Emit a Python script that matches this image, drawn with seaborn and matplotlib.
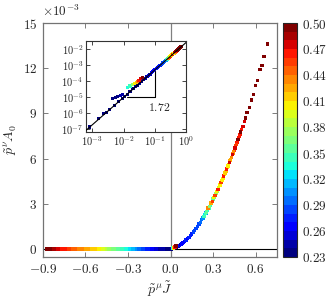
import numpy as np
import pandas as pd
import matplotlib
matplotlib.use('Agg')
import matplotlib.pyplot as plt
import seaborn as sns
from matplotlib.colors import ListedColormap, Normalize
from matplotlib.cm import ScalarMappable

# negative branch, lies on y = 0
x_neg = [-0.870, -0.855, -0.840, -0.825, -0.810, -0.795, -0.780, -0.765, -0.750, -0.735,
         -0.720, -0.705, -0.690, -0.675, -0.660, -0.645, -0.630, -0.615, -0.600, -0.585,
         -0.570, -0.555, -0.540, -0.525, -0.510, -0.495, -0.480, -0.465, -0.450, -0.435,
         -0.420, -0.405, -0.390, -0.375, -0.360, -0.345, -0.330, -0.315, -0.300, -0.285,
         -0.270, -0.255, -0.240, -0.225, -0.210, -0.195, -0.180, -0.165, -0.150, -0.135,
         -0.120, -0.105, -0.090, -0.075, -0.060, -0.045, -0.030, -0.015, 0.000]
c_neg = [0.500, 0.496, 0.491, 0.487, 0.482, 0.478, 0.473, 0.469, 0.464, 0.460,
         0.455, 0.451, 0.448, 0.445, 0.442, 0.438, 0.435, 0.432, 0.428, 0.425,
         0.422, 0.418, 0.415, 0.412, 0.408, 0.403, 0.397, 0.392, 0.386, 0.380,
         0.374, 0.367, 0.362, 0.357, 0.352, 0.347, 0.342, 0.337, 0.330, 0.324,
         0.318, 0.312, 0.306, 0.300, 0.294, 0.288, 0.282, 0.276, 0.270, 0.266,
         0.262, 0.258, 0.254, 0.250, 0.246, 0.242, 0.238, 0.234, 0.230]

# positive branch
x_pos = [0.0008, 0.0016, 0.0022, 0.0028, 0.0035, 0.005, 0.007, 0.009, 0.011, 0.013,
         0.016, 0.02, 0.024, 0.028, 0.033, 0.038, 0.044, 0.05, 0.056, 0.063,
         0.07, 0.077, 0.085, 0.093, 0.10, 0.11, 0.12, 0.13, 0.14, 0.15,
         0.16, 0.17, 0.18, 0.19, 0.20, 0.21, 0.22, 0.23, 0.24, 0.25,
         0.26, 0.27, 0.28, 0.29, 0.30, 0.31, 0.32, 0.33, 0.34, 0.35,
         0.36, 0.37, 0.38, 0.39, 0.40, 0.41, 0.42, 0.43, 0.44, 0.45,
         0.46, 0.47, 0.48, 0.49, 0.50, 0.51, 0.52, 0.53, 0.54, 0.555,
         0.57, 0.585, 0.60, 0.615, 0.63, 0.645, 0.66, 0.685,
         0.0045, 0.0055, 0.0065, 0.008, 0.0095,
         0.235, 0.245, 0.255, 0.265, 0.275, 0.285, 0.295, 0.305, 0.315, 0.325,
         0.335, 0.345, 0.355, 0.365, 0.375, 0.385, 0.395, 0.405, 0.415, 0.425,
         0.435, 0.445, 0.455, 0.465, 0.475, 0.485, 0.495,
         0.013, 0.016, 0.019, 0.022, 0.025, 0.028, 0.031, 0.035, 0.040]
y_pos = [1.3e-7, 4.5e-7, 9.5e-7, 1.1e-6, 1.6e-6, 2.9e-6, 5.0e-6, 7.8e-6, 1.1e-5, 1.5e-5,
         2.1e-5, 3.2e-5, 4.4e-5, 5.5e-5, 7.3e-5, 9.4e-5, 1.2e-4, 1.5e-4, 1.8e-4, 2.3e-4,
         2.7e-4, 3.2e-4, 3.8e-4, 4.4e-4, 5.0e-4, 5.9e-4, 6.9e-4, 7.7e-4, 8.9e-4, 9.9e-4,
         1.12e-3, 1.22e-3, 1.37e-3, 1.48e-3, 1.64e-3, 1.76e-3, 1.93e-3, 2.05e-3, 2.24e-3, 2.38e-3,
         2.57e-3, 2.72e-3, 2.92e-3, 3.08e-3, 3.30e-3, 3.45e-3, 3.68e-3, 3.85e-3, 4.08e-3, 4.25e-3,
         4.50e-3, 4.68e-3, 4.95e-3, 5.12e-3, 5.40e-3, 5.58e-3, 5.88e-3, 6.05e-3, 6.35e-3, 6.55e-3,
         6.86e-3, 7.05e-3, 7.38e-3, 7.58e-3, 7.92e-3, 8.12e-3, 8.46e-3, 8.70e-3, 9.05e-3, 9.40e-3,
         9.90e-3, 10.25e-3, 10.85e-3, 11.2e-3, 11.9e-3, 12.2e-3, 12.8e-3, 13.6e-3,
         8.0e-6, 9.0e-6, 1.05e-5, 1.2e-5, 1.4e-5,
         2.15e-3, 2.33e-3, 2.45e-3, 2.70e-3, 2.82e-3, 3.05e-3, 3.15e-3, 3.40e-3, 3.55e-3, 3.82e-3,
         3.95e-3, 4.20e-3, 4.40e-3, 4.55e-3, 4.85e-3, 5.05e-3, 5.30e-3, 5.50e-3, 5.75e-3, 5.95e-3,
         6.25e-3, 6.45e-3, 6.70e-3, 6.95e-3, 7.25e-3, 7.45e-3, 7.75e-3,
         4.0e-5, 4.8e-5, 5.8e-5, 6.8e-5, 8.0e-5, 9.5e-5, 1.1e-4, 1.4e-4, 1.75e-4]
c_pos = [0.23, 0.23, 0.23, 0.23, 0.24, 0.23, 0.24, 0.23, 0.24, 0.24,
         0.24, 0.24, 0.25, 0.24, 0.25, 0.25, 0.25, 0.25, 0.25, 0.26,
         0.25, 0.26, 0.26, 0.26, 0.26, 0.27, 0.26, 0.27, 0.27, 0.27,
         0.28, 0.28, 0.28, 0.29, 0.29, 0.30, 0.30, 0.31, 0.32, 0.31,
         0.33, 0.34, 0.34, 0.35, 0.36, 0.37, 0.38, 0.38, 0.39, 0.40,
         0.40, 0.41, 0.41, 0.42, 0.42, 0.43, 0.43, 0.44, 0.44, 0.45,
         0.45, 0.46, 0.47, 0.46, 0.47, 0.48, 0.48, 0.49, 0.49, 0.50,
         0.49, 0.50, 0.50, 0.49, 0.50, 0.50, 0.50, 0.50,
         0.24, 0.24, 0.24, 0.25, 0.25,
         0.34, 0.35, 0.36, 0.44, 0.37, 0.43, 0.45, 0.41, 0.45, 0.40,
         0.46, 0.40, 0.45, 0.41, 0.47, 0.42, 0.47, 0.41, 0.48, 0.43,
         0.48, 0.44, 0.48, 0.45, 0.49, 0.46, 0.49,
         0.33, 0.35, 0.38, 0.40, 0.42, 0.44, 0.46, 0.48, 0.50]

# power law fit shown in the inset
fit_slope = 1.72
fit_amp = 0.026
fit_xrange = [10**-3.2, 1.0]

c_ticks = [0.23, 0.26, 0.29, 0.32, 0.35, 0.38, 0.41, 0.44, 0.47, 0.50]

neg = pd.DataFrame({'x': x_neg, 'y': [0.0] * len(x_neg), 'c': c_neg})
pos = pd.DataFrame({'x': x_pos, 'y': y_pos, 'c': c_pos})

sns.set_style('ticks')
plt.rcParams['mathtext.fontset'] = 'cm'
plt.rcParams['font.family'] = ['DejaVu Serif']
plt.rcParams['xtick.direction'] = 'in'
plt.rcParams['ytick.direction'] = 'in'

cmap = ListedColormap(plt.get_cmap('jet')(np.linspace(0, 1, 27)))
cnorm = Normalize(0.23, 0.50)

fig = plt.figure(figsize=(3.3, 3.0), dpi=100)
ax = fig.add_axes([0.130, 0.143, 0.709, 0.780])

ax.axhline(0, color='k', lw=0.8, zorder=1)
ax.axvline(0, color='0.5', lw=0.9, zorder=1)
for df in [neg, pos]:
    sns.scatterplot(data=df, x='x', y='y', hue='c', palette=cmap, hue_norm=cnorm,
                    s=6, marker='s', linewidth=0, legend=False, ax=ax, zorder=3)

ax.set_xlim(-0.9, 0.75)
ax.set_ylim(-0.55e-3, 15e-3)
xt = [-0.9, -0.6, -0.3, 0.0, 0.3, 0.6]
ax.set_xticks(xt)
ax.set_xticklabels(['$-0.9$', '$-0.6$', '$-0.3$', '$0.0$', '$0.3$', '$0.6$'], fontsize=9.5)
yt = [0, 3e-3, 6e-3, 9e-3, 12e-3, 15e-3]
ax.set_yticks(yt)
ax.set_yticklabels(['$0$', '$3$', '$6$', '$9$', '$12$', '$15$'], fontsize=9.5)
ax.tick_params(top=True, right=True, length=3.5, width=0.6, color='0.4', pad=4)
for sp in ax.spines.values():
    sp.set_color('0.45')
    sp.set_linewidth(0.9)
ax.set_xlabel(r'$\tilde{p}^{\mu}\tilde{J}$', fontsize=10, labelpad=3)
ax.set_ylabel(r'$\tilde{p}^{\nu}A_0$', fontsize=10, labelpad=2)
fig.text(0.127, 0.962, r'$\times10^{-3}$', fontsize=9.5, ha='left', va='center')

# inset, log-log
axi = fig.add_axes([0.261, 0.56, 0.303, 0.303])
sns.scatterplot(data=pos, x='x', y='y', hue='c', palette=cmap, hue_norm=cnorm,
                s=5, marker='s', linewidth=0, legend=False, ax=axi, zorder=3)
fx = np.array(fit_xrange)
axi.plot(fx, fit_amp * fx**fit_slope, color='k', lw=0.8, zorder=4)
axi.plot([10**-1.9, 0.1, 0.1], [1e-5, 1e-5, 10**-3.35], color='k', lw=0.8)
axi.text(0.135, 10**-5.69, '$1.72$', fontsize=8.5, ha='center', va='center')
axi.set_xscale('log')
axi.set_yscale('log')
axi.set_xlim(10**-3.2, 1.0)
axi.set_ylim(10**-7.2, 10**-1.5)
axi.set_xticks([1e-3, 1e-2, 1e-1, 1e0])
axi.set_xticklabels(['$10^{-3}$', '$10^{-2}$', '$10^{-1}$', '$10^{0}$'], fontsize=7.5)
axi.set_yticks([1e-7, 1e-6, 1e-5, 1e-4, 1e-3, 1e-2])
axi.set_yticklabels(['$10^{-7}$', '$10^{-6}$', '$10^{-5}$', '$10^{-4}$', '$10^{-3}$', '$10^{-2}$'], fontsize=7.5)
axi.minorticks_off()
axi.tick_params(top=True, right=True, length=3, width=0.6, pad=2)
axi.set_xlabel('')
axi.set_ylabel('')
for sp in axi.spines.values():
    sp.set_color('0.2')
    sp.set_linewidth(0.8)

# colorbar
cax = fig.add_axes([0.858, 0.143, 0.042, 0.780])
cb = fig.colorbar(ScalarMappable(norm=cnorm, cmap=cmap), cax=cax, ticks=c_ticks)
cb.ax.set_yticklabels(['$%.2f$' % v for v in c_ticks], fontsize=9.5)
cb.ax.tick_params(length=2, width=0.5, direction='in')
cb.outline.set_linewidth(0.8)

fig.savefig('out.png', dpi=100)
